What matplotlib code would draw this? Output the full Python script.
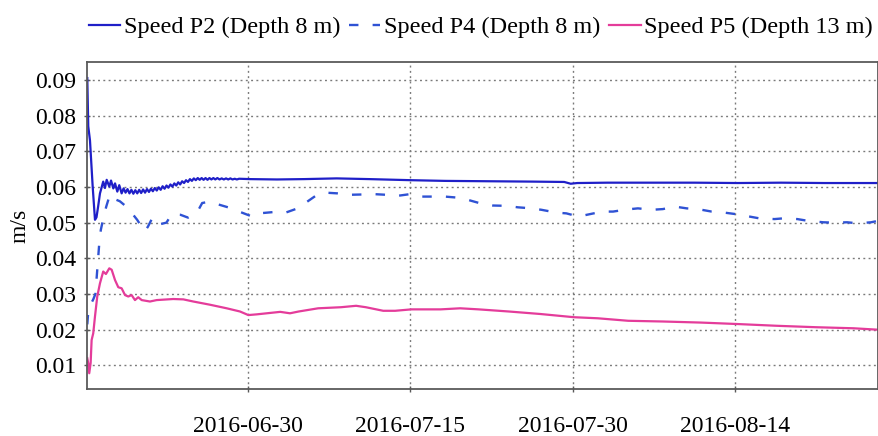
from __future__ import annotations

import matplotlib

matplotlib.use("Agg")
import matplotlib.dates as mdates
import matplotlib.pyplot as plt
import pandas as pd

# time axis: days after the first sample
start_time = "2016-06-15 05:00"
span_days = 72.95
tick_dates = ["2016-06-30", "2016-07-15", "2016-07-30", "2016-08-14"]

p2_days = [
    0.00, 0.09, 0.25, 0.50, 0.71, 0.85, 1.00, 1.17, 1.47, 1.63, 1.79, 2.03,
    2.19, 2.40, 2.56, 2.77, 2.95, 3.17, 3.35, 3.53, 3.71, 3.89, 4.07, 4.25,
    4.43, 4.61, 4.79, 4.97, 5.15, 5.33, 5.51, 5.69, 5.87, 6.05, 6.23, 6.41,
    6.59, 6.77, 6.95, 7.13, 7.31, 7.49, 7.67, 7.85, 8.03, 8.21, 8.39, 8.57,
    8.75, 8.93, 9.11, 9.29, 9.47, 9.65, 9.83, 10.01, 10.19, 10.37, 10.55,
    10.73, 10.91, 11.09, 11.27, 11.45, 11.63, 11.81, 12.0, 12.2, 12.4, 12.6,
    12.8, 13.0, 13.2, 13.4, 13.6, 13.8, 14.0, 15.0, 17.5, 20.0,
    23.0, 26.0, 29.8, 33.0, 37.0, 41.0, 44.0, 44.6, 45.2, 48.0, 52.0, 56.0,
    60.0, 64.0, 68.0, 72.95,
]
p2_speed = [
    0.0905, 0.0770, 0.0730, 0.0600, 0.0508, 0.0515, 0.0545, 0.0582, 0.0615,
    0.0597, 0.0620, 0.0601, 0.0618, 0.0596, 0.0610, 0.0587, 0.0605, 0.0582,
    0.0596, 0.0584, 0.0594, 0.0582, 0.0592, 0.0581, 0.0591, 0.0582, 0.0592,
    0.0583, 0.0593, 0.0584, 0.0594, 0.0586, 0.0595, 0.0588, 0.0597, 0.0590,
    0.0599, 0.0592, 0.0602, 0.0595, 0.0604, 0.0598, 0.0607, 0.0601, 0.0610,
    0.0604, 0.0613, 0.0607, 0.0616, 0.0611, 0.0619, 0.0614, 0.0622, 0.0617,
    0.0624, 0.0619, 0.0625, 0.0620, 0.0625, 0.0620, 0.0625, 0.0620, 0.0625,
    0.0621, 0.0625, 0.0621, 0.0625, 0.0621, 0.0624, 0.0621, 0.0624, 0.0621,
    0.0624, 0.0621, 0.0623, 0.0621, 0.0623, 0.0622, 0.0621, 0.0622, 0.0624,
    0.0622, 0.0619, 0.0617, 0.0616, 0.0615, 0.0614, 0.0609, 0.0611, 0.0612,
    0.0612, 0.0612, 0.0611, 0.0612, 0.0611, 0.0611,
]

p4_days = [
    0.00, 0.10, 0.30, 0.55, 0.75, 0.95, 1.10, 1.25, 1.50, 1.75, 2.0, 2.3, 2.6,
    3.0, 3.6, 4.0, 4.6, 5.3, 5.6, 6.0, 6.5, 7.3, 7.8, 8.6, 9.3, 10.1, 10.6,
    11.3, 12.2, 13.2, 14.1, 15.3, 16.2, 17.3, 18.2, 19.4, 20.3, 21.2, 22.0,
    23.1, 24.1, 25.5, 26.4, 27.6, 28.6, 29.8, 30.7, 32.1, 33.0, 34.2, 35.1,
    36.5, 37.4, 38.8, 39.7, 41.0, 41.9, 43.3, 44.2, 45.3, 46.4, 47.5, 48.5,
    49.8, 50.8, 52.1, 53.1, 54.2, 55.3, 56.5, 57.6, 58.8, 59.8, 61.1, 62.0,
    63.4, 64.2, 65.5, 66.5, 67.9, 68.9, 70.1, 71.1, 72.3, 72.95,
]
p4_speed = [
    0.0215, 0.0255, 0.0270, 0.0285, 0.0300, 0.0380, 0.0440, 0.0480, 0.0515,
    0.0545, 0.0570, 0.0580, 0.0565, 0.0560, 0.0545, 0.0531, 0.0508, 0.0475,
    0.0489, 0.0513, 0.0494, 0.0500, 0.0524, 0.0522, 0.0514, 0.0527, 0.0555,
    0.0559, 0.0550, 0.0541, 0.0530, 0.0516, 0.0527, 0.0530, 0.0527, 0.0540,
    0.0559, 0.0578, 0.0584, 0.0582, 0.0578, 0.0579, 0.0580, 0.0578, 0.0575,
    0.0580, 0.0573, 0.0573, 0.0573, 0.0570, 0.0564, 0.0552, 0.0548, 0.0547,
    0.0543, 0.0540, 0.0536, 0.0528, 0.0526, 0.0517, 0.0524, 0.0531, 0.0531,
    0.0537, 0.0540, 0.0536, 0.0538, 0.0545, 0.0540, 0.0537, 0.0531, 0.0528,
    0.0524, 0.0517, 0.0512, 0.0510, 0.0512, 0.0510, 0.0505, 0.0501, 0.0500,
    0.0501, 0.0498, 0.0501, 0.0505,
]

p5_days = [
    0.00, 0.09, 0.18, 0.31, 0.40, 0.55, 0.71, 0.92, 1.17, 1.47, 1.72, 2.03,
    2.25, 2.56, 2.86, 3.17, 3.48, 3.78, 4.09, 4.40, 4.70, 5.02, 5.78, 6.40,
    7.93, 8.86, 9.78, 11.32, 12.86, 14.09, 14.86, 15.63, 17.8, 18.7, 19.5,
    21.3, 23.4, 24.8, 25.7, 27.3, 28.4, 29.9, 32.6, 34.4, 36.1, 38.9, 41.8,
    44.9, 47.1, 49.9, 53.1, 56.6, 59.9, 63.6, 67.2, 70.7, 72.95,
]
p5_speed = [
    0.0120, 0.0106, 0.0078, 0.0107, 0.0171, 0.0190, 0.0237, 0.0293, 0.0330,
    0.0363, 0.0356, 0.0372, 0.0368, 0.0339, 0.0319, 0.0316, 0.0297, 0.0293,
    0.0297, 0.0283, 0.0291, 0.0283, 0.0279, 0.0283, 0.0286, 0.0285, 0.0279,
    0.0270, 0.0260, 0.0251, 0.0241, 0.0243, 0.0250, 0.0246, 0.0251, 0.0260,
    0.0263, 0.0267, 0.0263, 0.0253, 0.0253, 0.0257, 0.0257, 0.0260, 0.0257,
    0.0251, 0.0244, 0.0235, 0.0232, 0.0225, 0.0223, 0.0220, 0.0216, 0.0211,
    0.0207, 0.0204, 0.0200,
]

y_ticks = [0.01, 0.02, 0.03, 0.04, 0.05, 0.06, 0.07, 0.08, 0.09]


def to_dates(days):
    return pd.Timestamp(start_time) + pd.to_timedelta(days, unit="D")


def set_rcparams() -> None:
    plt.rcParams.update(
        {
            "font.family": ["Liberation Serif", "DejaVu Serif"],
            "font.size": 17,
            "axes.edgecolor": "#5a5a5a",
            "axes.linewidth": 1.3,
        }
    )


def main() -> None:
    set_rcparams()
    fig = plt.figure(figsize=(8.79, 4.36), dpi=100)
    ax = fig.add_axes([0.0993, 0.1071, 0.8996, 0.7514])

    ax.plot(to_dates(p2_days), p2_speed, color="#1f1fc8", lw=1.6,
            label="Speed P2 (Depth 8 m)")
    ax.plot(to_dates(p4_days), p4_speed, color="#2f52d4", lw=1.7,
            linestyle=(0, (4.0, 6.0)), label="Speed P4 (Depth 8 m)")
    ax.plot(to_dates(p5_days), p5_speed, color="#e43c9a", lw=1.6,
            label="Speed P5 (Depth 13 m)")

    ax.set_xlim(to_dates(0.0), to_dates(span_days))
    ax.set_ylim(0.0033, 0.0951)
    ax.set_yticks(y_ticks)
    ax.set_xticks(pd.to_datetime(tick_dates))
    ax.xaxis.set_major_formatter(mdates.DateFormatter("%Y-%m-%d"))

    ax.grid(True, color="#7a7a7a", lw=1.0, linestyle=(0, (1.4, 2.4)))
    ax.tick_params(axis="both", direction="inout", length=4, width=1,
                   color="#5a5a5a", labelsize=17)
    ax.tick_params(axis="y", pad=6)
    ax.tick_params(axis="x", pad=17)

    ax.set_ylabel("m/s", fontsize=17)
    ax.yaxis.set_label_coords(-0.072, 0.5)

    fig.legend(loc="center", bbox_to_anchor=(0.547, 0.937), ncol=3,
               frameon=False, fontsize=17.5, handlelength=1.3,
               handletextpad=0.15, columnspacing=0.35)

    fig.savefig("out.png", dpi=100)
    plt.close(fig)


if __name__ == "__main__":
    main()
